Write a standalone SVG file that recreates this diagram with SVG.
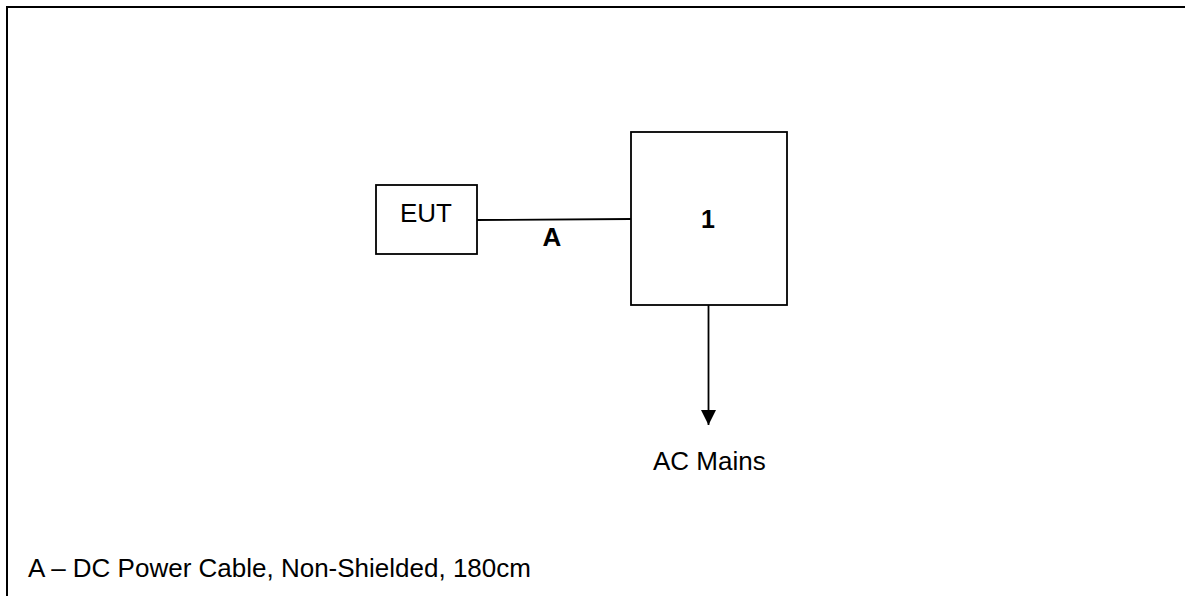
<svg xmlns="http://www.w3.org/2000/svg" width="1185" height="596" viewBox="0 0 1185 596">
<defs>
<style>
.box{fill:#fff;stroke:#000;stroke-width:1.8}
.ln{stroke:#000;stroke-width:1.8;fill:none}
.t{font-family:"Liberation Sans",Arial,sans-serif;font-size:26px;fill:#000}
.b{font-weight:bold}
</style>
<marker id="arr" viewBox="0 0 15 15" refX="15" refY="7.5" markerWidth="15" markerHeight="15" markerUnits="userSpaceOnUse" orient="auto"><path d="M0,0 L15,7.5 L0,15 z" fill="#000"/></marker>
</defs>
<rect width="1185" height="596" fill="#fff"/>
<path d="M7,596 V7 H1185" fill="none" stroke="#000" stroke-width="2"/>
<g id="connectors">
<line class="ln" x1="477" y1="220" x2="631" y2="219"/>
<line class="ln" x1="708.5" y1="305" x2="708.5" y2="425" marker-end="url(#arr)"/>
</g>
<g id="node-eut">
<rect class="box" x="376" y="185" width="101" height="69"/>
<text class="t" x="426" y="222" text-anchor="middle">EUT</text>
</g>
<g id="node-1">
<rect class="box" x="631" y="132" width="156" height="173"/>
<text class="t b" x="708" y="228" text-anchor="middle" style="font-size:25px">1</text>
</g>
<text class="t b" x="552" y="246" text-anchor="middle">A</text>
<text class="t" x="653" y="470">AC Mains</text>
<text class="t" x="28" y="577">A – DC Power Cable, Non-Shielded, 180cm</text>
</svg>
